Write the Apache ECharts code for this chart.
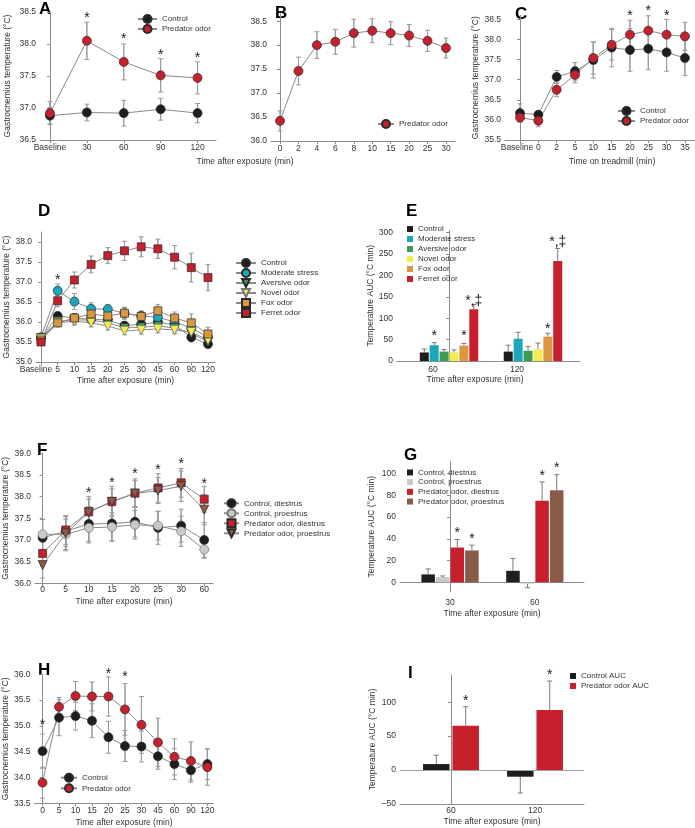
<!DOCTYPE html>
<html>
<head>
<meta charset="utf-8">
<script src="https://cdn.jsdelivr.net/npm/echarts@6/dist/echarts.min.js"></script>
<style>
  html, body { margin: 0; background: #fff; }
  #chart { width: 695px; height: 828px; }
</style>
</head>
<body>
<div id="chart"></div>
<script>
// ---------- data ----------
const aLabels = ['Baseline', '30', '60', '90', '120'];
const aControl = [36.88, 36.93, 36.92, 36.98, 36.92];
const aControlErr = [0.13, 0.13, 0.2, 0.17, 0.15];
const aPredator = [36.92, 38.05, 37.72, 37.51, 37.47];
const aPredatorErr = [0.18, 0.29, 0.28, 0.26, 0.25];
const aStars = [[1, 38.45], [2, 38.12], [3, 37.88], [4, 37.83]];

const bLabels = ['0', '2', '4', '6', '8', '10', '15', '20', '25', '30'];
const bPredator = [36.42, 37.46, 38.0, 38.07, 38.25, 38.3, 38.25, 38.2, 38.09, 37.94];
const bPredatorErr = [0.21, 0.29, 0.28, 0.26, 0.29, 0.25, 0.24, 0.23, 0.22, 0.21];

const cLabels = ['Baseline', '0', '2', '5', '10', '15', '20', '25', '30', '35'];
const cControl = [36.17, 36.13, 37.07, 37.21, 37.49, 37.8, 37.74, 37.77, 37.68, 37.54];
const cControlErr = [0.23, 0.1, 0.16, 0.22, 0.45, 0.48, 0.53, 0.52, 0.47, 0.44];
const cPredator = [36.06, 35.98, 36.75, 37.12, 37.54, 37.87, 38.12, 38.22, 38.12, 38.08];
const cPredatorErr = [0.1, 0.15, 0.17, 0.2, 0.4, 0.38, 0.36, 0.37, 0.38, 0.35];
const cStars = [[6, 38.65], [7, 38.77], [8, 38.66]];

const dLabels = ['Baseline', '5', '10', '15', '20', '25', '30', '45', '60', '90', '120'];
const dControl = [35.6, 36.15, 36.1, 36.07, 36.05, 35.91, 35.94, 36.0, 35.93, 35.62, 35.45];
const dControlErr = [0.08, 0.1, 0.1, 0.1, 0.1, 0.1, 0.12, 0.12, 0.12, 0.12, 0.1];
const dModerate = [35.62, 36.78, 36.51, 36.33, 36.32, 36.22, 36.15, 36.12, 36.0, 35.85, 35.62];
const dModerateErr = [0.08, 0.17, 0.2, 0.15, 0.12, 0.15, 0.13, 0.12, 0.12, 0.12, 0.1];
const dAversive = [35.6, 36.02, 36.05, 36.05, 35.98, 35.85, 35.87, 35.9, 35.85, 35.72, 35.5];
const dAversiveErr = [0.08, 0.1, 0.1, 0.1, 0.1, 0.1, 0.1, 0.1, 0.1, 0.12, 0.1];
const dNovel = [35.58, 35.98, 36.02, 35.98, 35.9, 35.78, 35.8, 35.83, 35.8, 35.75, 35.55];
const dNovelErr = [0.08, 0.1, 0.1, 0.1, 0.1, 0.1, 0.1, 0.1, 0.1, 0.12, 0.1];
const dFox = [35.55, 35.98, 36.1, 36.2, 36.15, 36.22, 36.14, 36.28, 36.1, 35.98, 35.7];
const dFoxErr = [0.08, 0.1, 0.1, 0.1, 0.12, 0.14, 0.12, 0.16, 0.15, 0.22, 0.17];
const dFerret = [35.5, 36.53, 37.05, 37.44, 37.66, 37.78, 37.88, 37.83, 37.62, 37.36, 37.11];
const dFerretErr = [0.08, 0.15, 0.2, 0.21, 0.2, 0.24, 0.25, 0.24, 0.29, 0.36, 0.33];
const dStars = [[1, 37.13]];

const eGroups = ['60', '120'];
const eControl = [20, 22], eControlErr = [8, 15];
const eModerate = [37, 52], eModerateErr = [6, 15];
const eAversive = [22, 24], eAversiveErr = [5, 10];
const eNovel = [20, 27], eNovelErr = [6, 15];
const eFox = [36, 57], eFoxErr = [5, 8];
const eFerret = [121, 234], eFerretErr = [11, 29];
const eStars = [[0, 1, 65, '*'], [0, 4, 65, '*'], [0, 5, 146.6, '*,\u2021'], [1, 4, 81.8, '*'], [1, 5, 284.5, '*,\u2021']];

const fLabels = ['0', '5', '10', '15', '20', '25', '30', '60'];
const fCtrlDi = [37.05, 37.2, 37.37, 37.38, 37.42, 37.28, 37.33, 37.0];
const fCtrlDiErr = [0.42, 0.35, 0.4, 0.4, 0.35, 0.38, 0.38, 0.4];
const fCtrlPro = [37.13, 37.13, 37.28, 37.3, 37.35, 37.33, 37.2, 36.78];
const fCtrlProErr = [0.35, 0.35, 0.35, 0.33, 0.33, 0.33, 0.35, 0.2];
const fPredDi = [36.69, 37.23, 37.65, 37.89, 38.08, 38.2, 38.32, 37.94];
const fPredDiErr = [0.3, 0.33, 0.35, 0.35, 0.33, 0.33, 0.33, 0.3];
const fPredPro = [36.42, 37.15, 37.64, 37.88, 38.07, 38.14, 38.24, 37.7];
const fPredProErr = [0.3, 0.4, 0.3, 0.3, 0.3, 0.3, 0.35, 0.35];
const fStars = [[2, 38.15], [3, 38.38], [4, 38.58], [5, 38.69], [6, 38.81], [7, 38.36]];

const gGroups = ['30', '60'];
const gCtrlDi = [7.3, 10.6], gCtrlDiErr = [5, 11.4];
const gCtrlPro = [4.9, -1.3], gCtrlProErr = [1, 3.7];
const gPredDi = [32, 74.9], gPredDiErr = [7.4, 17.4];
const gPredPro = [29.3, 84.7], gPredProErr = [4.9, 14.3];
const gStars = [[0, 2, 48, '*'], [0, 3, 42.5, '*'], [1, 2, 100, '*'], [1, 3, 108, '*']];

const hLabels = ['0', '5', '10', '15', '20', '25', '30', '45', '60', '90', '120'];
const hControl = [34.51, 35.16, 35.19, 35.1, 34.78, 34.61, 34.6, 34.41, 34.26, 34.14, 34.26];
const hControlErr = [0.33, 0.35, 0.27, 0.33, 0.31, 0.3, 0.3, 0.25, 0.3, 0.23, 0.3];
const hPredator = [33.9, 35.37, 35.58, 35.57, 35.57, 35.32, 35.02, 34.68, 34.4, 34.32, 34.2];
const hPredatorErr = [0.3, 0.18, 0.28, 0.28, 0.38, 0.5, 0.55, 0.47, 0.35, 0.37, 0.35];
const hStars = [[0, 35.08], [4, 36.06], [5, 36.0]];

const iGroups = ['60', '120'];
const iControl = [8.8, -9.8], iControlErr = [13, 24];
const iPredator = [65.3, 88.5], iPredatorErr = [28, 42.6];
const iStars = [[0, 1, 105.7, '*'], [1, 1, 144, '*']];

// ---------- styling ----------
const FONT = 'Liberation Sans, Arial, Helvetica, sans-serif';
const TEXT = '#333';
const AXIS_GRAY = '#8c8c8c';
const LINE_GRAY = '#8a8a8a';
const ERR_GRAY = '#9a9a9a';
const RED = '#c7202d', BLACK = '#1e1e1e', CYAN = '#1aa6bd', GREEN = '#3d9a57',
      YELLOW = '#f4ec4c', ORANGE = '#dd9640', LIGHT = '#c9c9c9', BROWN = '#8b5a48';
const TEMP_NAME = 'Gastrocnemius temperature (\u00b0C)';
const AUC_NAME = 'Temperature AUC (\u00b0C min)';
const X_NAME = 'Time after exposure (min)';

const grids = [
  { left: 40, top: 12, width: 176, height: 128 },      // A
  { left: 271, top: 14, width: 184, height: 127 },     // B
  { left: 505, top: 15.4, width: 190, height: 124.6 }, // C
  { left: 36, top: 232, width: 179, height: 130 },     // D
  { left: 397, top: 230.6, width: 183, height: 130.4 },// E
  { left: 35, top: 453.3, width: 178, height: 130 },   // F
  { left: 400, top: 461.7, width: 184, height: 130 },  // G
  { left: 32.5, top: 674.3, width: 181, height: 129 }, // H
  { left: 400, top: 675, width: 184, height: 129 }     // I
];

const range = (a, b, s) => { const r = []; for (let v = a; v <= b + 1e-9; v += s) r.push(+v.toFixed(2)); return r; };
const fmt1 = v => v.toFixed(1);
const fmtInt = v => (v < 0 ? '\u2013' + Math.abs(v) : String(v));

function yAxisCfg(gi, min, max, ticks, fmt, name, nameGap) {
  return {
    type: 'value', gridIndex: gi, min, max,
    name: name || '', nameLocation: 'middle', nameGap: nameGap || 0,
    nameTextStyle: { fontSize: 8.5, color: TEXT, fontFamily: FONT },
    axisLine: { show: true, lineStyle: { color: AXIS_GRAY } },
    axisTick: { show: true, length: 3, customValues: ticks, lineStyle: { color: AXIS_GRAY } },
    axisLabel: { customValues: ticks, margin: 4, fontSize: 8.5, color: TEXT, fontFamily: FONT, formatter: fmt },
    splitLine: { show: false }
  };
}

function xAxisCfg(gi, labels, min, max, opt) {
  const idx = labels.map((_, i) => i);
  return {
    type: 'value', gridIndex: gi, min, max,
    name: opt.name || '', nameLocation: 'middle', nameGap: opt.nameGap || 0,
    nameTextStyle: { fontSize: 8.5, color: TEXT, fontFamily: FONT, padding: opt.namePad || 0 },
    axisLine: { show: true, onZero: !!opt.onZero, lineStyle: { color: AXIS_GRAY } },
    axisTick: { show: opt.ticks !== false, length: 3, customValues: idx, lineStyle: { color: AXIS_GRAY } },
    axisLabel: {
      customValues: idx, margin: opt.margin, fontSize: 8.5, color: TEXT, fontFamily: FONT,
      padding: opt.labelPad || 0,
      formatter: v => {
        const s = labels[Math.round(v)];
        return (s === 'Baseline' && opt.basePad) ? '{b|' + s + '}' : s;
      },
      rich: { b: { padding: [0, opt.basePad || 0, 0, 0], fontSize: 8.5, color: TEXT, fontFamily: FONT } }
    },
    splitLine: { show: false }
  };
}

const xAxes = [
  xAxisCfg(0, aLabels, -0.27, 4.5, { margin: 3 }),
  xAxisCfg(1, bLabels, -0.49, 9.49, { margin: 3 }),
  xAxisCfg(2, cLabels, -0.82, 9.55, { margin: 3, basePad: 6, name: 'Time on treadmill (min)', nameGap: 17, namePad: [0, 0, 0, 24] }),
  xAxisCfg(3, dLabels, -0.3, 10.42, { margin: 3, basePad: 10, name: X_NAME, nameGap: 14 }),
  xAxisCfg(4, eGroups, -0.62, 1.56, { margin: 4, ticks: false, labelPad: [0, 32, 0, 0], name: X_NAME, nameGap: 14, namePad: [0, 27, 0, 0] }),
  xAxisCfg(5, fLabels, -0.33, 7.38, { margin: 2, name: X_NAME, nameGap: 13.4 }),
  xAxisCfg(6, gGroups, -0.59, 1.58, { margin: 6, ticks: false, onZero: true, name: X_NAME, nameGap: 17.7 }),
  xAxisCfg(7, hLabels, -0.49, 10.37, { margin: 3, name: X_NAME, nameGap: 14.4 }),
  xAxisCfg(8, iGroups, -0.607, 1.583, { margin: 2.5, ticks: false, name: X_NAME, nameGap: 12.7 })
];

const yAxes = [
  yAxisCfg(0, 36.5, 38.5, range(36.5, 38.5, 0.5), fmt1, TEMP_NAME, 27.5),
  yAxisCfg(1, 36, 38.65, range(36, 38.5, 0.5), fmt1),
  yAxisCfg(2, 35.5, 38.6, range(35.5, 38.5, 0.5), fmt1, TEMP_NAME, 17.5),
  yAxisCfg(3, 35, 38.25, range(35, 38, 0.5), fmt1, TEMP_NAME, 23.5),
  yAxisCfg(4, 0, 305, range(0, 300, 50), fmtInt, AUC_NAME, 21.5),
  yAxisCfg(5, 36, 39, range(36, 39, 0.5), fmt1, TEMP_NAME, 22.5),
  yAxisCfg(6, -8.6, 110.9, range(0, 100, 20), fmtInt, AUC_NAME, 24),
  yAxisCfg(7, 33.5, 36, range(33.5, 36, 0.5), fmt1, TEMP_NAME, 20),
  yAxisCfg(8, -50, 140, range(-50, 100, 50), fmtInt, AUC_NAME, 23)
];

// ---------- series builders ----------
const series = [];

function lineSeries(panel, gi, name, values, color, symbol, rotate, border) {
  series.push({
    type: 'line', name: panel + '|' + name, xAxisIndex: gi, yAxisIndex: gi,
    data: values.map((v, i) => [i, v]),
    symbol, symbolRotate: rotate || 0, symbolSize: symbol === 'rect' ? 8 : 9,
    lineStyle: { color: LINE_GRAY, width: 1 },
    itemStyle: { color, borderColor: border || '#2a2a2a', borderWidth: 0.7 },
    z: 3, animation: false, emphasis: { disabled: true }
  });
}

function capLines(x, yA, yB, color) {
  const st = { stroke: color, lineWidth: 1 };
  return [
    { type: 'line', shape: { x1: x, y1: yA, x2: x, y2: yB }, style: st },
    { type: 'line', shape: { x1: x - 2.5, y1: yB, x2: x + 2.5, y2: yB }, style: st }
  ];
}

function errSeries(gi, list) {
  const data = [];
  list.forEach(([vals, errs]) => vals.forEach((m, i) => data.push([i, m, errs[i]])));
  series.push({
    type: 'custom', xAxisIndex: gi, yAxisIndex: gi, data, z: 2, silent: true, animation: false,
    renderItem: (params, api) => {
      const x = api.value(0), m = api.value(1), e = api.value(2);
      const top = api.coord([x, m + e]), bot = api.coord([x, m - e]);
      return {
        type: 'group',
        children: capLines(top[0], bot[1], top[1], ERR_GRAY).concat(capLines(top[0], top[1], bot[1], ERR_GRAY))
      };
    }
  });
}

function starText(x, y, text) {
  return {
    type: 'text', x, y: y + 3,
    style: { text, fontSize: 14, fontFamily: FONT, fill: '#1a1a1a', align: 'center', verticalAlign: 'middle' }
  };
}

function starSeries(gi, stars) {
  series.push({
    type: 'custom', xAxisIndex: gi, yAxisIndex: gi, data: stars, z: 4, silent: true, animation: false,
    renderItem: (params, api) => {
      const p = api.coord([api.value(0), api.value(1)]);
      return starText(p[0], p[1], '*');
    }
  });
}

function barSeries(panel, gi, name, values, color, bw, gap) {
  series.push({
    type: 'bar', name: panel + '|' + name, xAxisIndex: gi, yAxisIndex: gi,
    data: values.map((v, i) => [i, v]),
    barWidth: bw, barGap: gap, itemStyle: { color },
    z: 2, animation: false, emphasis: { disabled: true }
  });
}

function barExtras(gi, list, stars, bw, gapRatio) {
  const n = list.length, step = bw * (1 + gapRatio);
  const data = [];
  list.forEach(([vals, errs], k) => vals.forEach((m, i) => data.push([i, m, errs[i], k])));
  series.push({
    type: 'custom', xAxisIndex: gi, yAxisIndex: gi, data, z: 1, silent: true, animation: false,
    renderItem: (params, api) => {
      const x = api.value(0), m = api.value(1), e = api.value(2), k = api.value(3);
      const off = (k - (n - 1) / 2) * step;
      const p0 = api.coord([x, m]), p1 = api.coord([x, m >= 0 ? m + e : m - e]);
      return { type: 'group', children: capLines(p0[0] + off, p0[1], p1[1], '#7a7a7a') };
    }
  });
  series.push({
    type: 'custom', xAxisIndex: gi, yAxisIndex: gi, data: stars.map(s => [s[0], s[2], s[1]]),
    z: 4, silent: true, animation: false,
    renderItem: (params, api) => {
      const k = api.value(2);
      const off = (k - (n - 1) / 2) * step;
      const p = api.coord([api.value(0), api.value(1)]);
      return starText(p[0] + off, p[1], stars[params.dataIndex][3]);
    }
  });
}

// A
errSeries(0, [[aControl, aControlErr], [aPredator, aPredatorErr]]);
lineSeries('A', 0, 'Control', aControl, BLACK, 'circle');
lineSeries('A', 0, 'Predator odor', aPredator, RED, 'circle');
starSeries(0, aStars);
// B
errSeries(1, [[bPredator, bPredatorErr]]);
lineSeries('B', 1, 'Predator odor', bPredator, RED, 'circle');
// C
errSeries(2, [[cControl, cControlErr], [cPredator, cPredatorErr]]);
lineSeries('C', 2, 'Control', cControl, BLACK, 'circle');
lineSeries('C', 2, 'Predator odor', cPredator, RED, 'circle');
starSeries(2, cStars);
// D
errSeries(3, [[dControl, dControlErr], [dModerate, dModerateErr], [dAversive, dAversiveErr],
              [dNovel, dNovelErr], [dFox, dFoxErr], [dFerret, dFerretErr]]);
lineSeries('D', 3, 'Control', dControl, BLACK, 'circle');
lineSeries('D', 3, 'Moderate stress', dModerate, CYAN, 'circle');
lineSeries('D', 3, 'Aversive odor', dAversive, GREEN, 'triangle', 180);
lineSeries('D', 3, 'Novel odor', dNovel, YELLOW, 'triangle', 180, '#777');
lineSeries('D', 3, 'Fox odor', dFox, ORANGE, 'rect');
lineSeries('D', 3, 'Ferret odor', dFerret, RED, 'rect');
starSeries(3, dStars);
// E
const E_BW = 9, E_GAP = 0.1;
barSeries('E', 4, 'Control', eControl, BLACK, E_BW, '10%');
barSeries('E', 4, 'Moderate stress', eModerate, CYAN, E_BW, '10%');
barSeries('E', 4, 'Aversive odor', eAversive, GREEN, E_BW, '10%');
barSeries('E', 4, 'Novel odor', eNovel, YELLOW, E_BW, '10%');
barSeries('E', 4, 'Fox odor', eFox, ORANGE, E_BW, '10%');
barSeries('E', 4, 'Ferret odor', eFerret, RED, E_BW, '10%');
barExtras(4, [[eControl, eControlErr], [eModerate, eModerateErr], [eAversive, eAversiveErr],
              [eNovel, eNovelErr], [eFox, eFoxErr], [eFerret, eFerretErr]], eStars, E_BW, E_GAP);
// F
errSeries(5, [[fCtrlDi, fCtrlDiErr], [fCtrlPro, fCtrlProErr], [fPredDi, fPredDiErr], [fPredPro, fPredProErr]]);
lineSeries('F', 5, 'Control, diestrus', fCtrlDi, BLACK, 'circle');
lineSeries('F', 5, 'Control, proestrus', fCtrlPro, LIGHT, 'circle', 0, '#777');
lineSeries('F', 5, 'Predator odor, diestrus', fPredDi, RED, 'rect');
lineSeries('F', 5, 'Predator odor, proestrus', fPredPro, BROWN, 'triangle', 180);
starSeries(5, fStars);
// G
const G_BW = 13.5, G_GAP = 0.08;
barSeries('G', 6, 'Control, diestrus', gCtrlDi, BLACK, G_BW, '8%');
barSeries('G', 6, 'Control, proestrus', gCtrlPro, LIGHT, G_BW, '8%');
barSeries('G', 6, 'Predator odor, diestrus', gPredDi, RED, G_BW, '8%');
barSeries('G', 6, 'Predator odor, proestrus', gPredPro, BROWN, G_BW, '8%');
barExtras(6, [[gCtrlDi, gCtrlDiErr], [gCtrlPro, gCtrlProErr], [gPredDi, gPredDiErr], [gPredPro, gPredProErr]], gStars, G_BW, G_GAP);
// H
errSeries(7, [[hControl, hControlErr], [hPredator, hPredatorErr]]);
lineSeries('H', 7, 'Control', hControl, BLACK, 'circle');
lineSeries('H', 7, 'Predator odor', hPredator, RED, 'circle');
starSeries(7, hStars);
// I
const I_BW = 26.5, I_GAP = 0.11;
barSeries('I', 8, 'Control AUC', iControl, BLACK, I_BW, '11%');
barSeries('I', 8, 'Predator odor AUC', iPredator, RED, I_BW, '11%');
series[series.length - 1].markLine = {
  silent: true, symbol: 'none', label: { show: false }, animation: false,
  lineStyle: { color: '#a0a0a0', type: 'solid', width: 1 }, data: [{ yAxis: 0 }]
};
barExtras(8, [[iControl, iControlErr], [iPredator, iPredatorErr]], iStars, I_BW, I_GAP);

// ---------- legends ----------
function legendCfg(panel, names, left, top, itemWidth, itemHeight, row, icon) {
  return {
    data: names.map(n => panel + '|' + n), left, top, orient: 'vertical', padding: 0,
    itemWidth, itemHeight, itemGap: 0, icon, selectedMode: false,
    formatter: n => n.split('|')[1],
    textStyle: { fontSize: 8, color: TEXT, fontFamily: FONT, lineHeight: row }
  };
}

const legends = [
  legendCfg('A', ['Control', 'Predator odor'], 137, 14, 19, 10, 10),
  legendCfg('B', ['Predator odor'], 377, 119, 16, 10, 10),
  legendCfg('C', ['Control', 'Predator odor'], 617, 106, 17, 10, 10),
  legendCfg('D', ['Control', 'Moderate stress', 'Aversive odor', 'Novel odor', 'Fox odor', 'Ferret odor'], 235, 258, 20, 10, 10),
  legendCfg('E', ['Control', 'Moderate stress', 'Aversive odor', 'Novel odor', 'Fox odor', 'Ferret odor'], 407, 224, 6, 6, 10, 'rect'),
  legendCfg('F', ['Control, diestrus', 'Control, proestrus', 'Predator odor, diestrus', 'Predator odor, proestrus'], 223, 498.3, 15, 10, 10),
  legendCfg('G', ['Control, diestrus', 'Control, proestrus', 'Predator odor, diestrus', 'Predator odor, proestrus'], 407, 467.6, 6, 6, 9.7, 'rect'),
  legendCfg('H', ['Control', 'Predator odor'], 60, 772.4, 16, 10, 10.6),
  legendCfg('I', ['Control AUC', 'Predator odor AUC'], 570, 671, 6, 6, 10, 'rect')
];

// ---------- panel letters and shared axis title ----------
const letters = [['A', 39, 1], ['B', 275, 5], ['C', 515, 6], ['D', 38, 203], ['E', 406, 203],
                 ['F', 37, 442], ['G', 404, 447], ['H', 38, 662], ['I', 408, 665]];
const graphic = letters.map(([t, x, y]) => ({
  type: 'text', x, y,
  style: { text: t, fontSize: 17, fontWeight: 'bold', fontFamily: FONT, fill: '#000', verticalAlign: 'top' }
}));
graphic.push({
  type: 'text', x: 245, y: 162,
  style: { text: X_NAME, fontSize: 8.5, fontFamily: FONT, fill: TEXT, align: 'center', verticalAlign: 'middle' }
});

const chart = echarts.init(document.getElementById('chart'));
chart.setOption({
  backgroundColor: '#fff',
  animation: false,
  grid: grids,
  xAxis: xAxes,
  yAxis: yAxes,
  legend: legends,
  graphic,
  series
});
</script>
</body>
</html>
